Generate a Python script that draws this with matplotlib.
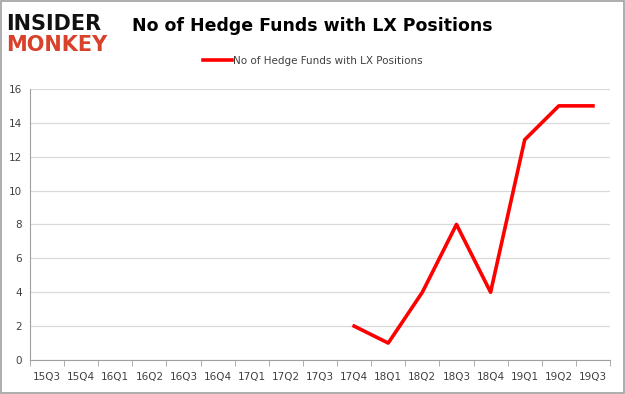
import matplotlib
matplotlib.use("Agg")
import matplotlib.pyplot as plt
import numpy as np

quarters = ["15Q3", "15Q4", "16Q1", "16Q2", "16Q3", "16Q4", "17Q1", "17Q2", "17Q3",
            "17Q4", "18Q1", "18Q2", "18Q3", "18Q4", "19Q1", "19Q2", "19Q3"]
funds = [None, None, None, None, None, None, None, None, None,
         2, 1, 4, 8, 4, 13, 15, 15]
series_name = "No of Hedge Funds with LX Positions"
title = "No of Hedge Funds with LX Positions"

fig = plt.figure(figsize=(6.25, 3.94), dpi=100)
fig.patch.set_facecolor("white")
border = plt.Rectangle((0.0015, 0.002), 0.997, 0.996, transform=fig.transFigure,
                       fill=False, edgecolor="#a0a0a0", linewidth=1.2)
fig.add_artist(border)

ax = fig.add_axes([0.048, 0.0863, 0.928, 0.688])
x = np.arange(len(quarters))
y = np.array([np.nan if v is None else v for v in funds], dtype=float)
line, = ax.plot(x, y, color="#ff0000", linewidth=2.6, label=series_name)

ax.set_xlim(-0.5, len(quarters) - 0.5)
ax.set_ylim(0, 16)
ax.set_yticks(np.arange(0, 17, 2))
ax.yaxis.grid(True, color="#d9d9d9", linewidth=0.9)
ax.set_axisbelow(True)
ax.set_xticks(x)
ax.set_xticklabels(quarters, fontsize=7.5, color="#404040")
ax.tick_params(axis="x", which="major", length=0, pad=9)
ax.set_xticks(np.arange(-0.5, len(quarters), 1), minor=True)
ax.tick_params(axis="x", which="minor", length=4, color="#a0a0a0", direction="out")
ax.tick_params(axis="y", length=0, labelsize=7.5, labelcolor="#404040", pad=6)
for s in ["top", "right"]:
    ax.spines[s].set_visible(False)
ax.spines["left"].set_color("#a0a0a0")
ax.spines["bottom"].set_color("#a0a0a0")

fig.text(0.5, 0.935, title, ha="center", va="center", fontsize=12.5,
         fontweight="bold", color="#000000")
leg = fig.legend(handles=[line], loc="center", bbox_to_anchor=(0.5, 0.845),
                 frameon=False, fontsize=7.5, handlelength=2.8, handletextpad=0.1)
for t in leg.get_texts():
    t.set_color("#404040")

fig.text(0.01, 0.94, "INSIDER", ha="left", va="center", fontsize=15,
         fontweight="black", color="#111111", family="DejaVu Sans")
fig.text(0.01, 0.885, "MONKEY", ha="left", va="center", fontsize=15,
         fontweight="black", color="#d9412b", family="DejaVu Sans")

fig.savefig("out.png", dpi=100, facecolor="white")
